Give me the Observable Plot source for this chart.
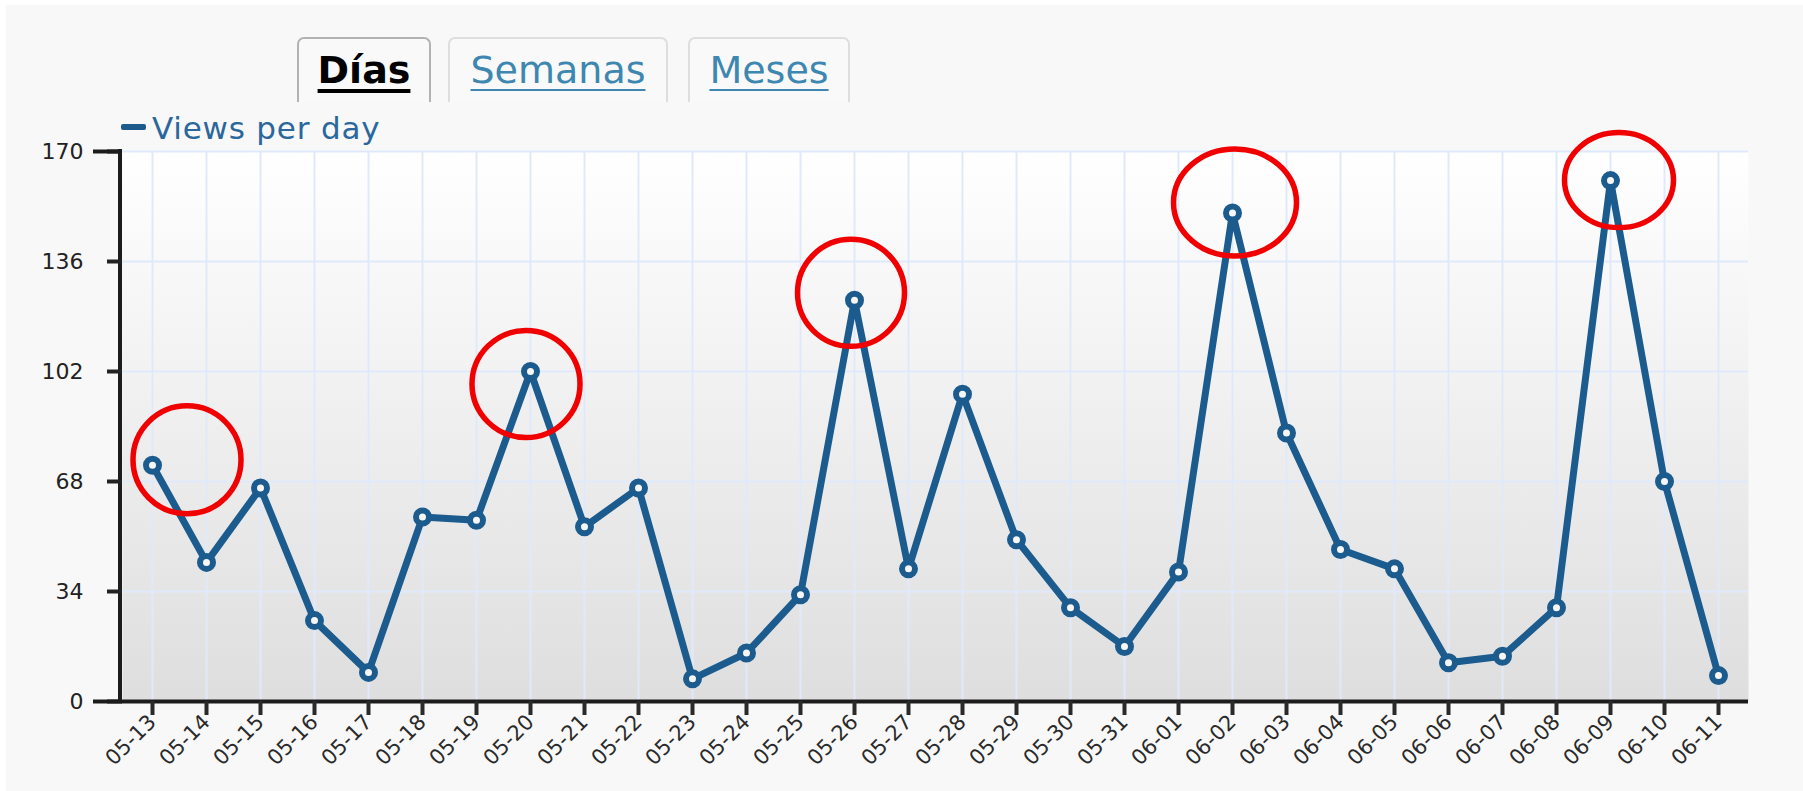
<!DOCTYPE html>
<html>
<head>
<meta charset="utf-8">
<script src="https://cdn.jsdelivr.net/npm/d3@7"></script>
<script src="https://cdn.jsdelivr.net/npm/@observablehq/plot@0.6"></script>
<style>
html, body { margin: 0; padding: 0; background: #ffffff; width: 1803px; height: 791px; overflow: hidden; font-family: "DejaVu Sans", Verdana, sans-serif; }
#page { position: absolute; left: 6px; top: 5px; width: 1797px; height: 786px; background: #f8f8f8; }
.tab { position: absolute; top: 37px; height: 65px; box-sizing: border-box; border: 2px solid #dedede; border-bottom: none; border-radius: 7px 7px 0 0; background: #f9f9f9; z-index: 2; }
.tab.active { border-color: #b2b2b2; }
.tablabel { position: absolute; left: 0; right: 0; top: 12px; text-align: center; font-size: 38px; line-height: 38px; color: #3d87b0; text-decoration: underline; text-decoration-thickness: 2px; text-underline-offset: 6px; }
.tab.active .tablabel { color: #000; font-weight: bold; text-decoration-thickness: 4px; text-underline-offset: 6px; }
#legend-swatch { position: absolute; left: 121px; top: 124px; width: 25px; height: 6px; border-radius: 2px; background: #1f5a8c; z-index: 2; }
#legend-text { position: absolute; left: 152px; top: 113px; font-size: 31px; line-height: 31px; letter-spacing: 0.8px; color: #2a679c; z-index: 2; }
#chart { position: absolute; left: 0; top: 140px; z-index: 1; }
</style>
</head>
<body>
<div id="page"></div>
<svg width="0" height="0" style="position:absolute">
  <defs>
    <linearGradient id="plotbg" x1="0" y1="0" x2="0" y2="1">
      <stop offset="0" stop-color="#ffffff"/>
      <stop offset="1" stop-color="#dedede"/>
    </linearGradient>
  </defs>
</svg>
<div id="tabs"></div>
<div id="legend-swatch"></div>
<div id="legend-text"></div>
<div id="chart"></div>
<script>
// ---- data ----
const dates = ["05-13","05-14","05-15","05-16","05-17","05-18","05-19","05-20","05-21","05-22",
               "05-23","05-24","05-25","05-26","05-27","05-28","05-29","05-30","05-31","06-01",
               "06-02","06-03","06-04","06-05","06-06","06-07","06-08","06-09","06-10","06-11"];
const views = [73, 43, 66, 25, 9, 57, 56, 102, 54, 66,
               7, 15, 33, 124, 41, 95, 50, 29, 17, 40,
               151, 83, 47, 41, 12, 14, 29, 161, 68, 8];
const yTicks = [0, 34, 68, 102, 136, 170];
const yEnds = [0, 170];
const annotated = ["05-13", "05-20", "05-26", "06-02", "06-09"];
const legendLabel = "Views per day";
const tabLabels = ["Días", "Semanas", "Meses"];
const activeTab = "Días";

// ---- styles / layout (not data) ----
const tabBoxes = [{left: 297, width: 134}, {left: 448, width: 220}, {left: 688, width: 162}];
const ellipseGeom = {
  "05-13": {dx: 35, dy: -5, rx: 54, ry: 54},
  "05-20": {dx: -4, dy: 13, rx: 54, ry: 53.5},
  "05-26": {dx: -3, dy: -7, rx: 53.5, ry: 53.5},
  "06-02": {dx: 3, dy: -10, rx: 61.5, ry: 53.5},
  "06-09": {dx: 9, dy: 0, rx: 54.5, ry: 47.5}
};
const lineColor = "#1b5b8e";
const axisColor = "#1c1c1c";

// ---- header (tabs + legend) ----
const tabsDiv = document.getElementById("tabs");
tabLabels.forEach((t, i) => {
  const tab = document.createElement("div");
  tab.className = "tab" + (t === activeTab ? " active" : "");
  tab.style.left = tabBoxes[i].left + "px";
  tab.style.width = tabBoxes[i].width + "px";
  const lab = document.createElement("div");
  lab.className = "tablabel";
  lab.textContent = t;
  tab.appendChild(lab);
  tabsDiv.appendChild(tab);
});
document.getElementById("legend-text").textContent = legendLabel;

// ---- chart ----
const data = dates.map((d, i) => ({date: d, views: views[i]}));
const lookup = new Map(data.map(d => [d.date, d.views]));

function leftAxisLine(index, scales, values, dims) {
  const g = d3.create("svg:g");
  g.append("line")
    .attr("x1", dims.marginLeft - 2).attr("x2", dims.marginLeft - 2)
    .attr("y1", scales.y(d3.max(yTicks)) - 2).attr("y2", scales.y(0) + 2)
    .attr("stroke", axisColor).attr("stroke-width", 4);
  return g.node();
}

function annotationEllipses(index, scales) {
  const g = d3.create("svg:g");
  g.selectAll("ellipse")
    .data(annotated)
    .join("ellipse")
    .attr("cx", d => scales.x(d) + ellipseGeom[d].dx)
    .attr("cy", d => scales.y(lookup.get(d)) + ellipseGeom[d].dy)
    .attr("rx", d => ellipseGeom[d].rx)
    .attr("ry", d => ellipseGeom[d].ry)
    .attr("fill", "none")
    .attr("stroke", "#f00000")
    .attr("stroke-width", 5.5);
  return g.node();
}

const chart = Plot.plot({
  width: 1803,
  height: 651,
  marginTop: 11,
  marginBottom: 90,
  marginLeft: 122,
  marginRight: 55,
  x: {type: "point", domain: dates, padding: 0.5, label: null},
  y: {domain: [0, 170], label: null},
  style: {background: "transparent", fontFamily: "DejaVu Sans, Verdana, sans-serif", overflow: "visible"},
  marks: [
    Plot.frame({fill: "url(#plotbg)", stroke: "none"}),
    Plot.gridX({stroke: "#dfe9fb", strokeOpacity: 1, strokeWidth: 2}),
    Plot.gridY({ticks: yTicks, stroke: "#dfe9fb", strokeOpacity: 1, strokeWidth: 2}),
    Plot.line(data, {x: "date", y: "views", stroke: lineColor, strokeWidth: 7, strokeLinejoin: "round", strokeLinecap: "round"}),
    Plot.dot(data, {x: "date", y: "views", r: 6.5, stroke: lineColor, strokeWidth: 6, fill: "#f6f6f6"}),
    Plot.ruleY([0], {stroke: axisColor, strokeWidth: 4}),
    leftAxisLine,
    Plot.axisX({tickRotate: -45, tickSize: 14, tickPadding: 3, strokeWidth: 4, fontSize: 21, color: "#2a2a2a", label: null}),
    Plot.axisY({ticks: yTicks, tickSize: 15, tickPadding: 24, strokeWidth: 4, fontSize: 22, color: "#222", label: null}),
    Plot.axisY({ticks: yEnds, tickSize: 29, tickFormat: () => "", strokeWidth: 4, color: axisColor, label: null}),
    annotationEllipses
  ]
});
document.getElementById("chart").appendChild(chart);
</script>
</body>
</html>
